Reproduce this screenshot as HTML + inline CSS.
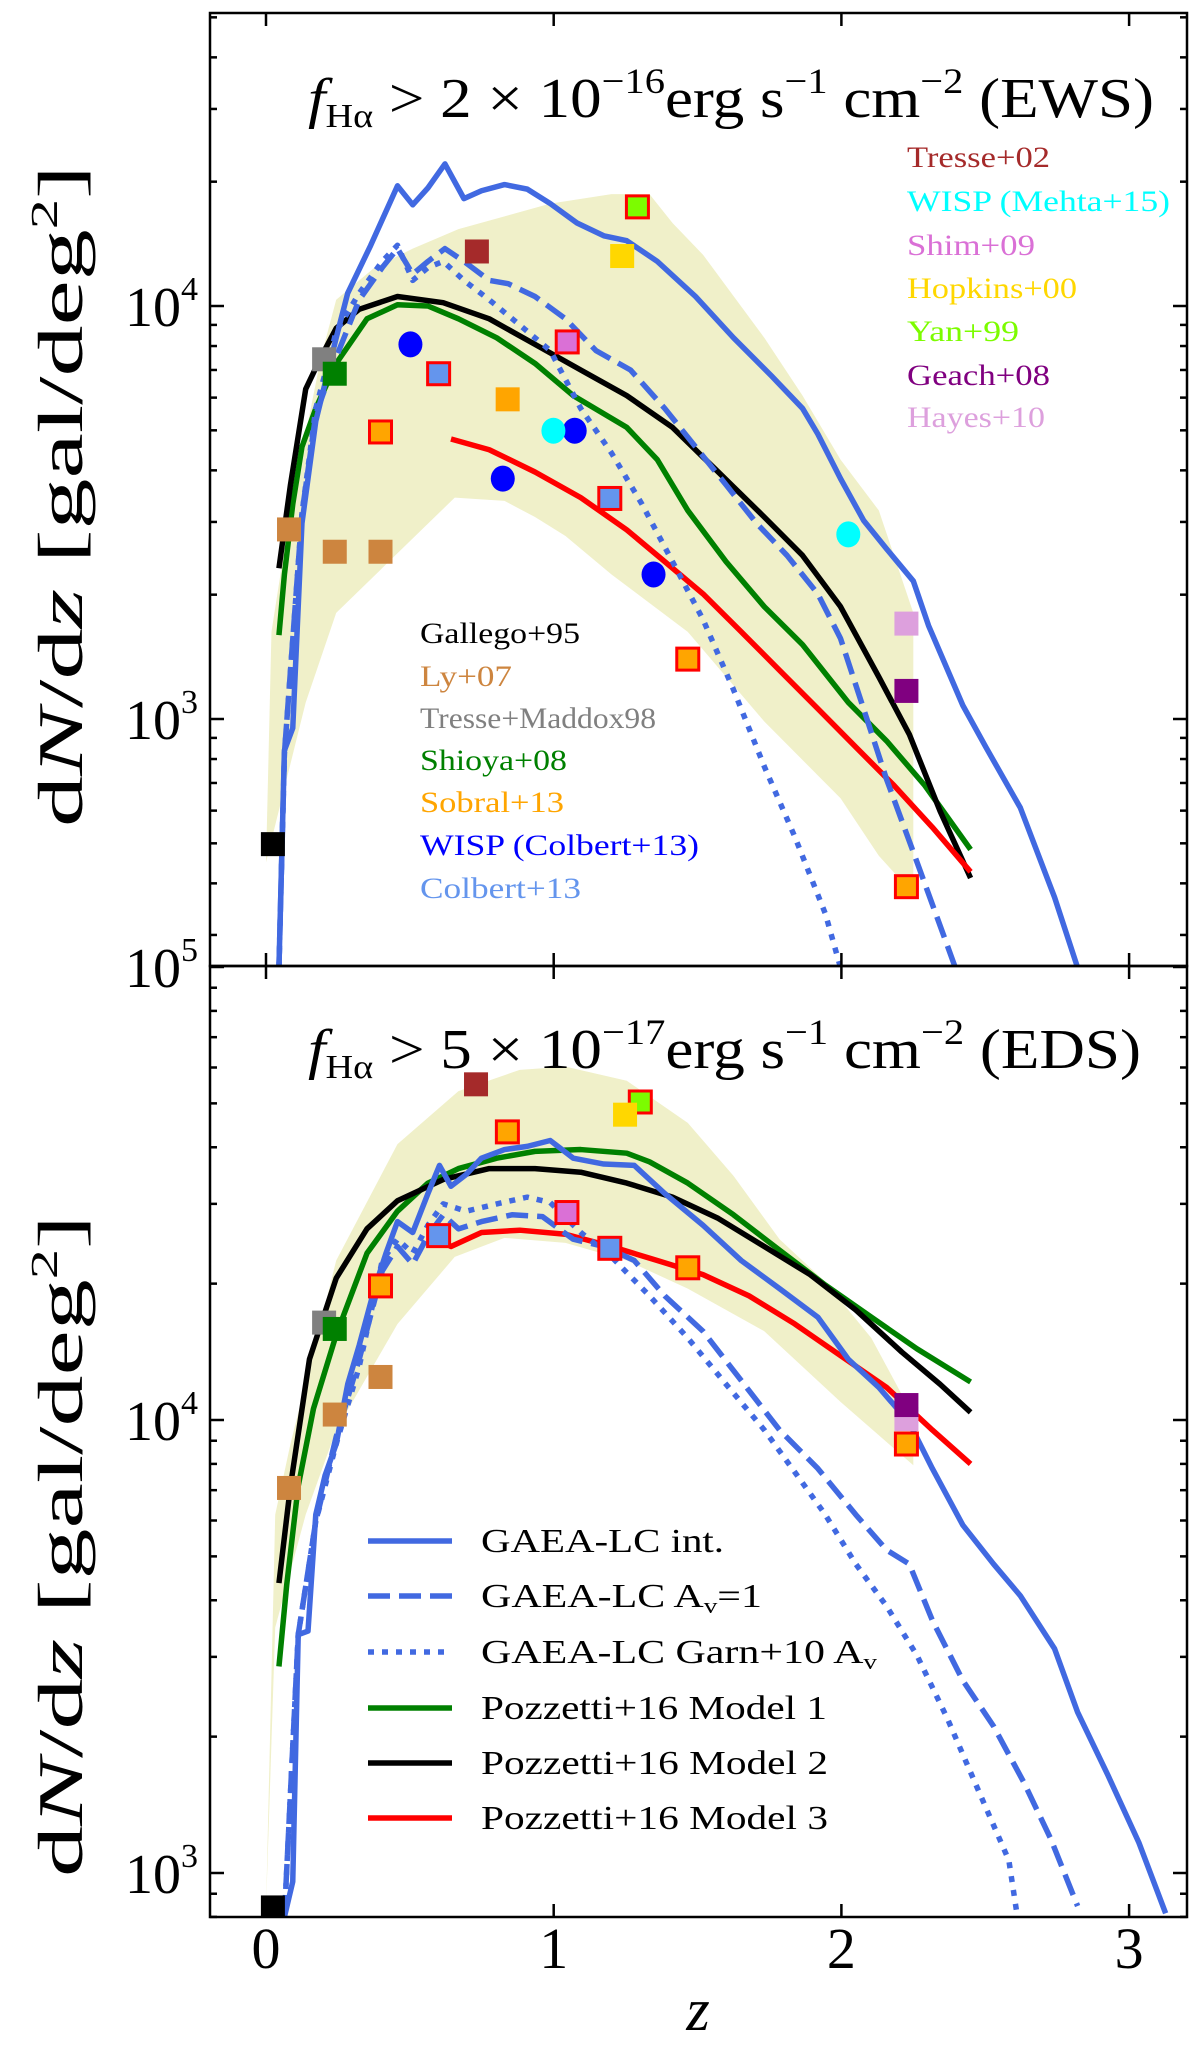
<!DOCTYPE html>
<html><head><meta charset="utf-8"><style>
html,body{margin:0;padding:0;background:#fff;}
svg{display:block;font-family:"Liberation Serif",serif;}
</style></head><body>
<svg id="chart" width="1200" height="2057" viewBox="0 0 1200 2057" xmlns="http://www.w3.org/2000/svg"></svg>
<script>
// ---------- DATA (z, log10 dN/dz) ----------
// Top panel (EWS)
const topIntZ=[0.045,0.064,0.093,0.125,0.173,0.244,0.284,0.364,0.457,0.510,0.563,0.622,0.688,0.749,0.829,0.908,0.988,1.081,1.174,1.254,1.360,1.493,1.625,1.758,1.865,1.918,1.997,2.077,2.157,2.250,2.303,2.422,2.502,2.622,2.741,2.821];
const topIntL=[2.398,2.924,2.978,3.474,3.721,3.923,4.031,4.147,4.291,4.245,4.286,4.344,4.260,4.279,4.294,4.283,4.248,4.201,4.170,4.158,4.108,4.023,3.923,3.830,3.752,3.690,3.582,3.481,3.412,3.334,3.226,3.033,2.932,2.785,2.568,2.398];
const topAvZ=[0.045,0.064,0.125,0.173,0.244,0.324,0.404,0.457,0.510,0.563,0.622,0.688,0.776,0.842,0.935,1.041,1.147,1.267,1.386,1.493,1.599,1.705,1.811,1.918,1.997,2.077,2.157,2.263,2.396];
const topAvL=[2.398,2.916,3.497,3.737,3.876,4.015,4.093,4.139,4.077,4.108,4.139,4.108,4.062,4.054,4.023,3.969,3.892,3.845,3.752,3.659,3.567,3.474,3.396,3.303,3.195,3.025,2.854,2.653,2.398];
const topGarnZ=[0.045,0.064,0.125,0.173,0.244,0.324,0.404,0.457,0.510,0.563,0.616,0.688,0.776,0.882,0.988,1.094,1.201,1.307,1.413,1.519,1.625,1.732,1.838,1.944,1.997];
const topGarnL=[2.398,2.916,3.497,3.752,3.938,4.031,4.108,4.147,4.062,4.093,4.108,4.062,4.015,3.954,3.892,3.752,3.644,3.520,3.381,3.241,3.071,2.885,2.715,2.529,2.398];
const topM1Z=[0.045,0.064,0.093,0.125,0.173,0.244,0.351,0.457,0.563,0.669,0.802,0.935,1.068,1.254,1.360,1.466,1.599,1.732,1.865,2.024,2.157,2.290,2.449];
const topM1L=[3.203,3.350,3.520,3.659,3.752,3.861,3.969,4.003,4.000,3.969,3.923,3.861,3.783,3.706,3.628,3.505,3.381,3.272,3.180,3.040,2.947,2.839,2.684];
const topM2Z=[0.045,0.085,0.138,0.191,0.244,0.324,0.457,0.616,0.776,0.935,1.094,1.254,1.413,1.572,1.732,1.865,1.997,2.130,2.236,2.343,2.449];
const topM2L=[3.365,3.567,3.799,3.876,3.946,3.992,4.023,4.008,3.969,3.907,3.845,3.783,3.706,3.598,3.489,3.396,3.272,3.102,2.963,2.777,2.615];
const topM3Z=[0.643,0.776,0.935,1.094,1.254,1.386,1.519,1.652,1.785,1.918,2.050,2.183,2.316,2.449];
const topM3L=[3.678,3.652,3.598,3.536,3.458,3.381,3.303,3.211,3.118,3.025,2.932,2.839,2.738,2.630];
const topBandUpZ=[0,0.019,0.085,0.191,0.244,0.377,0.510,0.669,0.829,0.988,1.201,1.333,1.413,1.519,1.732,1.865,1.997,2.130,2.250];
const topBandUpL=[2.653,3.211,3.505,3.876,4.015,4.093,4.139,4.186,4.217,4.248,4.271,4.271,4.201,4.124,3.923,3.783,3.628,3.505,3.257];
const topBandLoZ=[2.250,2.130,1.997,1.732,1.466,1.201,1.041,0.935,0.829,0.656,0.244,0.138,0];
const topBandLoL=[2.576,2.669,2.808,2.994,3.211,3.350,3.443,3.489,3.528,3.536,3.257,3.040,2.653];
// Bottom panel (EDS)
const botIntZ=[0.064,0.093,0.112,0.146,0.173,0.205,0.244,0.284,0.324,0.377,0.417,0.457,0.510,0.563,0.603,0.643,0.696,0.749,0.829,0.908,0.988,1.068,1.174,1.280,1.386,1.519,1.652,1.785,1.918,2.024,2.130,2.236,2.316,2.422,2.529,2.622,2.741,2.821,2.927,3.034,3.127];
const botIntL=[2.903,2.981,3.526,3.534,3.791,3.877,3.947,4.079,4.165,4.290,4.368,4.438,4.414,4.500,4.562,4.516,4.542,4.578,4.597,4.604,4.617,4.578,4.565,4.562,4.500,4.430,4.352,4.290,4.227,4.134,4.072,3.994,3.893,3.768,3.682,3.612,3.495,3.355,3.215,3.067,2.911];
const botAvZ=[0.064,0.112,0.173,0.244,0.324,0.404,0.457,0.510,0.563,0.616,0.669,0.749,0.855,0.961,1.068,1.174,1.280,1.386,1.519,1.652,1.785,1.918,2.050,2.157,2.236,2.316,2.422,2.529,2.635,2.728,2.821];
const botAvL=[2.903,3.526,3.776,3.963,4.134,4.329,4.383,4.344,4.407,4.453,4.422,4.438,4.453,4.449,4.399,4.383,4.352,4.274,4.196,4.087,3.978,3.893,3.791,3.713,3.682,3.558,3.425,3.324,3.199,3.075,2.927];
const botGarnZ=[0.064,0.112,0.173,0.244,0.324,0.404,0.457,0.510,0.563,0.616,0.696,0.802,0.908,0.988,1.094,1.201,1.333,1.466,1.599,1.732,1.838,1.944,2.050,2.157,2.263,2.369,2.475,2.582,2.608];
const botGarnL=[2.903,3.526,3.776,3.947,4.118,4.352,4.399,4.368,4.430,4.477,4.461,4.477,4.492,4.480,4.414,4.360,4.274,4.181,4.079,3.978,3.885,3.791,3.682,3.589,3.480,3.340,3.184,3.028,2.919];
const botM1Z=[0.045,0.072,0.112,0.165,0.244,0.351,0.457,0.563,0.669,0.802,0.935,1.094,1.254,1.333,1.466,1.625,1.785,1.944,2.104,2.263,2.449];
const botM1L=[3.456,3.636,3.854,4.025,4.188,4.368,4.461,4.523,4.555,4.578,4.593,4.597,4.589,4.570,4.523,4.453,4.375,4.298,4.227,4.157,4.084];
const botM2Z=[0.045,0.085,0.151,0.244,0.351,0.457,0.616,0.776,0.935,1.094,1.254,1.413,1.572,1.732,1.891,2.050,2.210,2.343,2.449];
const botM2L=[3.640,3.854,4.134,4.313,4.422,4.484,4.531,4.555,4.555,4.547,4.523,4.492,4.445,4.383,4.321,4.243,4.150,4.079,4.017];
const botM3Z=[0.600,0.643,0.749,0.882,1.041,1.201,1.360,1.519,1.679,1.838,1.997,2.157,2.316,2.449];
const botM3L=[4.399,4.383,4.414,4.419,4.410,4.383,4.352,4.321,4.274,4.212,4.142,4.072,3.978,3.903];
const botBandUpZ=[0,0.032,0.085,0.244,0.457,0.669,0.882,1.041,1.254,1.466,1.625,1.785,1.944,2.104,2.250];
const botBandUpL=[2.919,3.791,3.947,4.352,4.609,4.726,4.773,4.780,4.749,4.656,4.539,4.399,4.305,4.181,4.009];
const botBandLoZ=[2.250,1.997,1.732,1.466,1.254,1.041,0.829,0.656,0.457,0.244,0.138,0.032,0];
const botBandLoL=[3.900,4.040,4.196,4.290,4.352,4.391,4.402,4.360,4.212,3.978,3.791,3.542,2.919];
// Observational points
const obsNames=["Tresse+02","Yan+99","Hopkins+00","Shim+09","Colbert+13","Sobral+13","Sobral+13","WISP (Colbert+13)","WISP (Mehta+15)","Ly+07","Tresse+Maddox98","Shioya+08","Gallego+95","Hayes+10","Geach+08"];
const obsTopZ=[[0.733],[1.291],[1.238],[1.047],[0.600,1.195],[0.398,1.466,2.226],[0.840],[0.502,1.073,0.823,1.347],[0.999,2.024],[0.080,0.239,0.398],[0.202],[0.239],[0.024],[2.226],[2.226]];
const obsTopL=[[4.132],[4.240],[4.121],[3.913],[3.836,3.534],[3.695,3.145,2.594],[3.774],[3.907,3.698,3.582,3.350],[3.698,3.447],[3.459,3.405,3.405],[3.871],[3.836],[2.697],[3.231],[3.068]];
const obsBotZ=[[0.730],[1.301],[1.248],[1.046],[0.600,1.195],[0.398,1.466,2.226,0.839],[],[],[],[0.080,0.239,0.398],[0.202],[0.239],[0.024],[2.226],[2.226]];
const obsBotL=[[4.741],[4.702],[4.674],[4.458],[4.407,4.379],[4.296,4.336,3.947,4.636],[],[],[],[3.850,4.012,4.095],[4.215],[4.201],[2.924],[4.002],[4.033]];
const yTickDecades=[3,4,5];
const xTickVals=[0,1,2,3];

// ---------- STYLE ----------
const obsStyle=[
 ["sq","#a52a2a",null],["sq","#7cfc00","#ff0000"],["sq","#ffd700",null],["sq","#da70d6","#ff0000"],
 ["sq","#6495ed","#ff0000"],["sq","#ffa500","#ff0000"],["sq","#ffa500",null],["ci","#0000ff",null],
 ["ci","#00ffff",null],["sq","#cd853f",null],["sq","#808080",null],["sq","#008000",null],
 ["sq","#000000",null],["sq","#dda0dd",null],["sq","#800080",null]];
const NS="http://www.w3.org/2000/svg";
const svg=document.getElementById('chart');
const X0=210,X1=1187;
const xS=z=>266+z*287.7;
const panels=[
 {top:13,bot:966,y4:306,dec:413,name:"top"},
 {top:966,bot:1917,y4:1420,dec:453,name:"bottom"}];
function mk(tag,attrs,parent){const e=document.createElementNS(NS,tag);for(const k in attrs)e.setAttribute(k,attrs[k]);(parent||svg).appendChild(e);return e;}
const defs=mk('defs',{});
panels.forEach((p,i)=>{const c=mk('clipPath',{id:'clip'+i},defs);mk('rect',{x:X0,y:p.top,width:X1-X0,height:p.bot-p.top},c);});

function drawPanel(pi,d){
 const p=panels[pi];
 const yS=L=>p.y4-(L-4)*p.dec;
 const g=mk('g',{'clip-path':'url(#clip'+pi+')'});
 
 
 let pts=d.bandUpZ.map((z,k)=>xS(z)+','+yS(d.bandUpL[k])).concat(d.bandLoZ.map((z,k)=>xS(z)+','+yS(d.bandLoL[k])));
 const band=mk('polygon',{points:pts.join(' '),fill:'#f0f0c9',stroke:'none'},g);
 
 
 const line=(Z,L,col,dash,nm)=>{const e=mk('polyline',{points:Z.map((z,k)=>xS(z)+','+yS(L[k])).join(' '),fill:'none',stroke:col,'stroke-width':5.5,'stroke-linejoin':'round','stroke-dasharray':dash||'none'},g);
  
  };
 line(d.m1Z,d.m1L,'#008000',null,'pozzetti-model1-line');
 line(d.m2Z,d.m2L,'#000000',null,'pozzetti-model2-line');
 line(d.m3Z,d.m3L,'#ff0000',null,'pozzetti-model3-line');
 line(d.garnZ,d.garnL,'#4169e1','6 8','gaea-garn-line');
 line(d.avZ,d.avL,'#4169e1','22 9','gaea-av1-line');
 line(d.intZ,d.intL,'#4169e1',null,'gaea-int-line');
 obsNames.forEach((nm,j)=>{
  const Z=d.obsZ[j],L=d.obsL[j],st=obsStyle[j];
  Z.forEach((z,k)=>{
   const cx=xS(z),cy=yS(L[k]);let e;
   if(st[0]==='ci'){e=mk('ellipse',{cx:cx,cy:cy,rx:12,ry:13,fill:st[1]},g);}
   else{const s=st[2]?22:24;e=mk('rect',{x:cx-s/2,y:cy-s/2,width:s,height:s,fill:st[1],stroke:st[2]||'none','stroke-width':st[2]?3:0},g);}
   
   
  });
 });
 const ax=mk('g',{stroke:'#000','stroke-width':2.5});
 
 
 mk('rect',{x:X0,y:p.top,width:X1-X0,height:p.bot-p.top,fill:'none'},ax);
 xTickVals.forEach(v=>{const x=xS(v);mk('line',{x1:x,x2:x,y1:p.bot,y2:p.bot-13},ax);mk('line',{x1:x,x2:x,y1:p.top,y2:p.top+13},ax);});
 for(let e=2;e<=5;e++){for(let m=1;m<10;m++){const L=e+Math.log10(m);const y=yS(L);if(y<p.top-0.5||y>p.bot+0.5)continue;const len=m===1?14:7;
  mk('line',{x1:X0,x2:X0+len,y1:y,y2:y},ax);mk('line',{x1:X1,x2:X1-len,y1:y,y2:y},ax);}}
 yTickDecades.forEach(e=>{const y=yS(e);if(y<p.top-1||y>p.bot+1)return;
  const t=mk('text',{x:198,y:y+20,'text-anchor':'end','font-size':56,fill:'#000'});
  
  
  t.textContent='10';const s=mk('tspan',{'font-size':34,dy:-26},t);s.textContent=String(e);});
}
drawPanel(0,{intZ:topIntZ,intL:topIntL,avZ:topAvZ,avL:topAvL,garnZ:topGarnZ,garnL:topGarnL,m1Z:topM1Z,m1L:topM1L,m2Z:topM2Z,m2L:topM2L,m3Z:topM3Z,m3L:topM3L,bandUpZ:topBandUpZ,bandUpL:topBandUpL,bandLoZ:topBandLoZ,bandLoL:topBandLoL,obsZ:obsTopZ,obsL:obsTopL});
drawPanel(1,{intZ:botIntZ,intL:botIntL,avZ:botAvZ,avL:botAvL,garnZ:botGarnZ,garnL:botGarnL,m1Z:botM1Z,m1L:botM1L,m2Z:botM2Z,m2L:botM2L,m3Z:botM3Z,m3L:botM3L,bandUpZ:botBandUpZ,bandUpL:botBandUpL,bandLoZ:botBandLoZ,bandLoL:botBandLoL,obsZ:obsBotZ,obsL:obsBotL});
xTickVals.forEach(v=>{const t=mk('text',{x:xS(v),y:1968,'text-anchor':'middle','font-size':58,fill:'#000'});
 
 
 t.textContent=String(v);});
</script>
<svg style="position:absolute;left:0;top:0" width="1200" height="2057" xmlns="http://www.w3.org/2000/svg" font-family="Liberation Serif, serif">
 <text x="698" y="2030" font-size="60" font-style="italic" text-anchor="middle">z</text>
 <text transform="translate(82,496) rotate(-90)" font-size="64" text-anchor="middle" textLength="662" lengthAdjust="spacingAndGlyphs">d<tspan font-style="italic">N</tspan>/d<tspan font-style="italic">z</tspan> [gal/deg<tspan font-size="38" dy="-25">2</tspan><tspan dy="25">]</tspan></text>
 <text transform="translate(82,1546) rotate(-90)" font-size="64" text-anchor="middle" textLength="662" lengthAdjust="spacingAndGlyphs">d<tspan font-style="italic">N</tspan>/d<tspan font-style="italic">z</tspan> [gal/deg<tspan font-size="38" dy="-25">2</tspan><tspan dy="25">]</tspan></text>
 <text x="308" y="117" font-size="56" textLength="846" lengthAdjust="spacingAndGlyphs"><tspan font-style="italic">f</tspan><tspan font-size="34" dy="10">Hα</tspan><tspan dy="-10"> &gt; 2 × 10</tspan><tspan font-size="36" dy="-24">−16</tspan><tspan dy="24">erg s</tspan><tspan font-size="36" dy="-24">−1</tspan><tspan dy="24"> cm</tspan><tspan font-size="36" dy="-24">−2</tspan><tspan dy="24"> (EWS)</tspan></text>
 <text x="308" y="1068" font-size="56" textLength="833" lengthAdjust="spacingAndGlyphs"><tspan font-style="italic">f</tspan><tspan font-size="34" dy="10">Hα</tspan><tspan dy="-10"> &gt; 5 × 10</tspan><tspan font-size="36" dy="-24">−17</tspan><tspan dy="24">erg s</tspan><tspan font-size="36" dy="-24">−1</tspan><tspan dy="24"> cm</tspan><tspan font-size="36" dy="-24">−2</tspan><tspan dy="24"> (EDS)</tspan></text>
 <g font-size="30">
  <text x="907" y="167" fill="#a52a2a" textLength="143" lengthAdjust="spacingAndGlyphs">Tresse+02</text>
  <text x="907" y="211" fill="#00ffff" textLength="263" lengthAdjust="spacingAndGlyphs">WISP (Mehta+15)</text>
  <text x="907" y="255" fill="#da70d6" textLength="128" lengthAdjust="spacingAndGlyphs">Shim+09</text>
  <text x="907" y="298" fill="#ffd700" textLength="170" lengthAdjust="spacingAndGlyphs">Hopkins+00</text>
  <text x="907" y="341" fill="#7cfc00" textLength="112" lengthAdjust="spacingAndGlyphs">Yan+99</text>
  <text x="907" y="385" fill="#800080" textLength="143" lengthAdjust="spacingAndGlyphs">Geach+08</text>
  <text x="907" y="427" fill="#dda0dd" textLength="138" lengthAdjust="spacingAndGlyphs">Hayes+10</text>
 </g>
 <g font-size="30">
  <text x="420" y="643" fill="#000000" textLength="160" lengthAdjust="spacingAndGlyphs">Gallego+95</text>
  <text x="420" y="686" fill="#cd853f" textLength="92" lengthAdjust="spacingAndGlyphs">Ly+07</text>
  <text x="420" y="728" fill="#808080" textLength="236" lengthAdjust="spacingAndGlyphs">Tresse+Maddox98</text>
  <text x="420" y="770" fill="#008000" textLength="147" lengthAdjust="spacingAndGlyphs">Shioya+08</text>
  <text x="420" y="812" fill="#ffa500" textLength="144" lengthAdjust="spacingAndGlyphs">Sobral+13</text>
  <text x="420" y="855" fill="#0000ff" textLength="279" lengthAdjust="spacingAndGlyphs">WISP (Colbert+13)</text>
  <text x="420" y="898" fill="#6495ed" textLength="161" lengthAdjust="spacingAndGlyphs">Colbert+13</text>
 </g>
 <g font-size="34">
  <line x1="368" x2="452" y1="1541" y2="1541" stroke="#4169e1" stroke-width="5.5"/>
  <text x="481" y="1552" textLength="243" lengthAdjust="spacingAndGlyphs">GAEA-LC int.</text>
  <line x1="368" x2="452" y1="1596" y2="1596" stroke="#4169e1" stroke-width="5.5" stroke-dasharray="22 9"/>
  <text x="481" y="1607" textLength="281" lengthAdjust="spacingAndGlyphs">GAEA-LC A<tspan font-size="22" dy="6">v</tspan><tspan dy="-6">=1</tspan></text>
  <line x1="368" x2="452" y1="1652" y2="1652" stroke="#4169e1" stroke-width="5.5" stroke-dasharray="6 8"/>
  <text x="481" y="1663" textLength="396" lengthAdjust="spacingAndGlyphs">GAEA-LC Garn+10 A<tspan font-size="22" dy="6">v</tspan></text>
  <line x1="368" x2="452" y1="1708" y2="1708" stroke="#008000" stroke-width="5.5"/>
  <text x="481" y="1719" textLength="346" lengthAdjust="spacingAndGlyphs">Pozzetti+16 Model 1</text>
  <line x1="368" x2="452" y1="1763" y2="1763" stroke="#000" stroke-width="5.5"/>
  <text x="481" y="1774" textLength="347" lengthAdjust="spacingAndGlyphs">Pozzetti+16 Model 2</text>
  <line x1="368" x2="452" y1="1818" y2="1818" stroke="#ff0000" stroke-width="5.5"/>
  <text x="481" y="1829" textLength="347" lengthAdjust="spacingAndGlyphs">Pozzetti+16 Model 3</text>
 </g>
</svg>
</body></html>
